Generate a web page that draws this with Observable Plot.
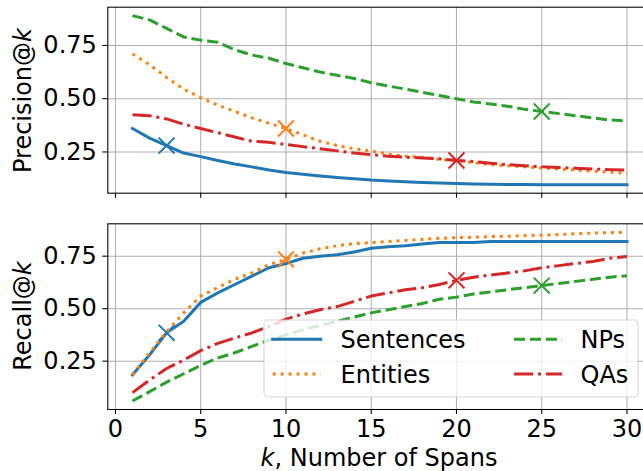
<!DOCTYPE html>
<html><head><meta charset="utf-8">
<script src="https://cdn.jsdelivr.net/npm/d3@7"></script>
<script src="https://cdn.jsdelivr.net/npm/@observablehq/plot@0.6"></script>
<style>
html,body{margin:0;padding:0;background:#fff;overflow:hidden;}
#wrap{position:relative;width:643px;height:471px;overflow:hidden;background:#fff;}
#wrap svg{position:absolute;left:0;display:block;max-width:none !important;}
</style></head>
<body><div id="wrap"></div>
<script>
// ---- data ----
const kValues = [1,2,3,4,5,6,7,8,9,10,11,12,13,14,15,16,17,18,19,20,21,22,23,24,25,26,27,28,29,30];
const seriesNames = ["Sentences","Entities","NPs","QAs"];
const markerK = [3,10,25,20];

const precSentences = [0.36,0.315,0.28,0.245,0.228,0.21,0.193,0.18,0.165,0.153,0.145,0.137,0.13,0.124,0.118,0.114,0.11,0.107,0.104,0.102,0.1,0.098,0.097,0.097,0.096,0.096,0.096,0.096,0.096,0.096];
const precEntities  = [0.71,0.66,0.60,0.545,0.505,0.47,0.44,0.41,0.385,0.36,0.33,0.30,0.28,0.265,0.255,0.24,0.23,0.225,0.215,0.21,0.20,0.19,0.185,0.18,0.175,0.17,0.165,0.16,0.155,0.15];
const precNPs       = [0.89,0.87,0.83,0.79,0.775,0.765,0.73,0.705,0.69,0.665,0.645,0.625,0.61,0.595,0.575,0.56,0.545,0.53,0.515,0.50,0.485,0.475,0.465,0.45,0.44,0.43,0.42,0.41,0.40,0.395];
const precQAs       = [0.425,0.42,0.405,0.38,0.36,0.34,0.32,0.30,0.295,0.285,0.275,0.265,0.255,0.245,0.237,0.23,0.225,0.222,0.218,0.21,0.205,0.197,0.19,0.185,0.18,0.177,0.173,0.17,0.167,0.165];

const recSentences = [0.185,0.28,0.385,0.44,0.53,0.575,0.615,0.655,0.695,0.715,0.74,0.75,0.757,0.77,0.788,0.795,0.80,0.808,0.815,0.815,0.815,0.82,0.82,0.82,0.82,0.82,0.82,0.82,0.82,0.82];
const recEntities  = [0.185,0.29,0.39,0.48,0.56,0.60,0.64,0.67,0.71,0.735,0.765,0.785,0.80,0.81,0.815,0.82,0.825,0.83,0.835,0.838,0.84,0.843,0.845,0.848,0.85,0.853,0.857,0.86,0.862,0.864];
const recNPs       = [0.06,0.105,0.15,0.19,0.23,0.265,0.29,0.32,0.35,0.375,0.40,0.42,0.44,0.46,0.48,0.495,0.51,0.525,0.545,0.555,0.57,0.58,0.59,0.60,0.61,0.62,0.63,0.64,0.65,0.657];
const recQAs       = [0.10,0.16,0.215,0.255,0.30,0.335,0.36,0.385,0.415,0.45,0.475,0.495,0.51,0.535,0.56,0.575,0.59,0.60,0.615,0.635,0.65,0.66,0.67,0.68,0.695,0.705,0.715,0.725,0.74,0.748];

const xTicks = [0,5,10,15,20,25,30];
const yTicks = [0.25,0.5,0.75];

// ---- styles ----
const colors = ["#1f77b4","#ff7f0e","#2ca02c","#d62728"];
const dashes = [null,"3 4.95","11.1 4.8","19.2 4.8 3 4.8"];
const caps = ["square","butt","butt","butt"];
const LW = 3;
const FONT = "'DejaVu Sans', sans-serif";

function table(arrays){
  const rows = [];
  arrays.forEach((arr, s) => arr.forEach((v, i) => rows.push({series: seriesNames[s], s, k: kValues[i], v})));
  return rows;
}

function panel(arrays, opts){
  const rows = table(arrays);
  const [lo, hi] = d3.extent(rows, d => d.v);
  const pad = (hi - lo) * 0.05;
  const marks = [
    Plot.gridX(xTicks, {stroke:"#b0b0b0", strokeOpacity:1, strokeWidth:1.07}),
    Plot.gridY(yTicks, {stroke:"#b0b0b0", strokeOpacity:1, strokeWidth:1.07})
  ];
  seriesNames.forEach((name, s) => {
    const data = rows.filter(d => d.s === s);
    marks.push(Plot.line(data, {x:"k", y:"v", stroke: colors[s], strokeWidth: LW,
      strokeDasharray: dashes[s] || undefined, strokeLinecap: caps[s], strokeLinejoin:"round"}));
    marks.push(Plot.dot(data.filter(d => d.k === markerK[s]), {x:"k", y:"v", symbol:"times", r:7.3,
      stroke: colors[s], strokeWidth: 2}));
  });
  marks.push(Plot.frame({stroke:"black", strokeWidth:1.07}));
  marks.push(Plot.axisX({ticks: xTicks, tickSize:5, tickPadding:5, stroke:"black", strokeWidth:1.07,
    tickFormat: opts.xLabels ? (d => String(d)) : (() => ""), label:null, fill:"black"}));
  marks.push(Plot.axisY({ticks: yTicks, tickSize:5, tickPadding:6, stroke:"black", strokeWidth:1.07,
    tickFormat: d3.format(".2f"), label:null, fill:"black"}));
  return Plot.plot({
    width: 660, height: opts.height,
    marginLeft: 107.3, marginRight: 8.8, marginTop: opts.mt, marginBottom: opts.mb,
    x: {domain: [-0.45, 31.45]},
    y: {domain: [lo - pad, hi + pad]},
    style: {fontFamily: FONT, fontSize: "24px", color: "black", background: "transparent", overflow: "visible", maxWidth: "none"},
    marks
  });
}

const wrap = document.getElementById("wrap");
const topPanel = panel([precSentences, precEntities, precNPs, precQAs], {height: 210, mt: 6.7, mb: 17.3, xLabels: false});
topPanel.style.top = "0px";
wrap.appendChild(topPanel);
const bottomPanel = panel([recSentences, recEntities, recNPs, recQAs], {height: 261, mt: 13.3, mb: 62, xLabels: true});
bottomPanel.style.top = "210px";
wrap.appendChild(bottomPanel);

// ---- overlay: axis labels and legend ----
const ov = d3.select(wrap).append("svg").attr("width", 643).attr("height", 471)
  .style("top", "0px").style("font-family", FONT).style("font-size", "24px");

function ylabel(txt, cy){
  const t = ov.append("text").attr("transform", `translate(31,${cy}) rotate(-90)`)
    .attr("text-anchor", "middle").attr("fill", "black");
  t.append("tspan").text(txt);
  t.append("tspan").attr("font-style", "italic").text("k");
}
ylabel("Precision@", 100.5);
ylabel("Recall@", 316);

const xl = ov.append("text").attr("x", 379).attr("y", 465.5).attr("text-anchor", "middle").attr("fill", "black");
xl.append("tspan").attr("font-style", "italic").text("k");
xl.append("tspan").text(", Number of Spans");

const lg = ov.append("g").attr("transform", "translate(263,319)");
lg.append("rect").attr("x", 1).attr("y", 1).attr("width", 374).attr("height", 77).attr("rx", 4)
  .attr("fill", "white").attr("fill-opacity", 0.8).attr("stroke", "#cccccc").attr("stroke-opacity", 0.8).attr("stroke-width", 1.07);
const legendPos = [
  {hx: 9.7, tx: 77.5, ly: 20.3, ty: 28.5},
  {hx: 9.7, tx: 77.5, ly: 55, ty: 63.7},
  {hx: 251, tx: 317.5, ly: 20.3, ty: 28.5},
  {hx: 251, tx: 317.5, ly: 55, ty: 63.7}
];
seriesNames.forEach((name, s) => {
  const p = legendPos[s];
  lg.append("line").attr("x1", p.hx).attr("x2", p.hx + 48).attr("y1", p.ly).attr("y2", p.ly)
    .attr("stroke", colors[s]).attr("stroke-width", LW)
    .attr("stroke-dasharray", dashes[s]).attr("stroke-linecap", caps[s]);
  lg.append("text").attr("x", p.tx).attr("y", p.ty).attr("fill", "black").text(name);
});
</script>
</body></html>
